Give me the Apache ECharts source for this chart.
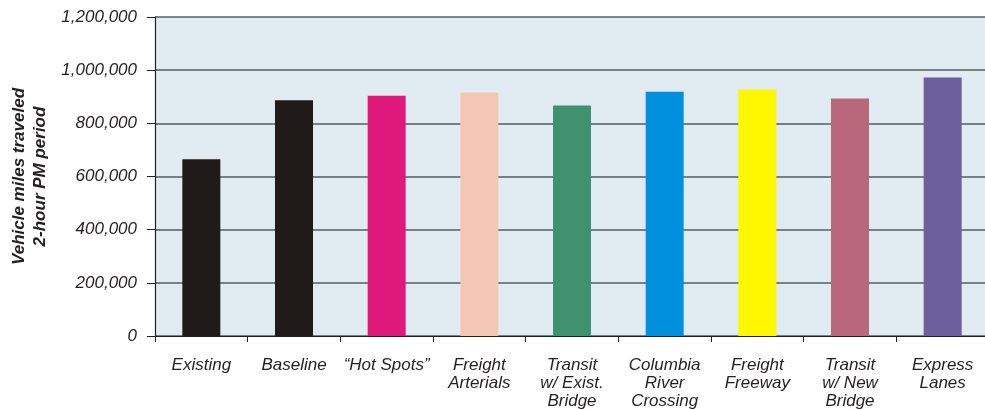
<!DOCTYPE html>
<html>
<head>
<meta charset="utf-8">
<style>
  html, body { margin: 0; padding: 0; background: #fff; overflow: hidden; }
  #chart { width: 990px; height: 410px; }
</style>
</head>
<body>
<div id="chart"></div>
<script src="https://cdn.jsdelivr.net/npm/echarts@6/dist/echarts.min.js"></script>
<script>
// scenarios and VMT values (2-hour PM period)
var categories = ['Existing', 'Baseline', '\u201cHot Spots\u201d', 'Freight\nArterials',
    'Transit\nw/ Exist.\nBridge', 'Columbia\nRiver\nCrossing', 'Freight\nFreeway',
    'Transit\nw/ New\nBridge', 'Express\nLanes'];
var vmtValues = [665000, 887000, 904000, 916000, 867000, 919000, 927000, 893000, 972000];
var barColors = ['#201b18', '#201b18', '#df187b', '#f5c6b4', '#40916e', '#0090de',
    '#fff700', '#b8687a', '#6d5e9e'];

// the plot runs off the right edge in the original, so the div is a bit wider than the window
var myChart = echarts.init(document.getElementById('chart'));

var labelFont = {
    fontFamily: 'Liberation Sans, Arial, sans-serif',
    fontStyle: 'italic',
    fontSize: 17,
    color: '#231f20'
};

var option = {
    animation: false,
    grid: {
        left: 155,
        right: 1,
        top: 17,
        bottom: 72,
        backgroundColor: '#e0ecf1',
        show: true,
        borderWidth: 0
    },
    xAxis: {
        type: 'category',
        data: categories,
        axisLine: { lineStyle: { color: '#231f20', width: 1.2 } },
        axisTick: { show: true, length: 6, lineStyle: { color: '#231f20' } },
        axisLabel: Object.assign({ margin: 20, lineHeight: 18, interval: 0 }, labelFont)
    },
    yAxis: {
        type: 'value',
        min: 0,
        max: 1200000,
        interval: 200000,
        name: 'Vehicle miles traveled\n2-hour PM period',
        nameLocation: 'middle',
        nameGap: 101,
        nameTextStyle: {
            fontFamily: 'Liberation Sans, Arial, sans-serif',
            fontStyle: 'italic',
            fontWeight: 'bold',
            fontSize: 17,
            lineHeight: 21,
            color: '#231f20'
        },
        axisLine: { show: true, lineStyle: { color: '#231f20', width: 1.2 } },
        axisTick: { show: true, length: 8, lineStyle: { color: '#231f20' } },
        axisLabel: Object.assign({
            margin: 18,
            formatter: function (v) { return v.toLocaleString('en-US'); }
        }, labelFont),
        splitLine: { lineStyle: { color: '#555d61', width: 1.6 } }
    },
    series: [{
        type: 'bar',
        barWidth: 38,
        data: vmtValues.map(function (v, i) {
            return { value: v, itemStyle: { color: barColors[i] } };
        })
    }]
};

myChart.setOption(option);
</script>
</body>
</html>
